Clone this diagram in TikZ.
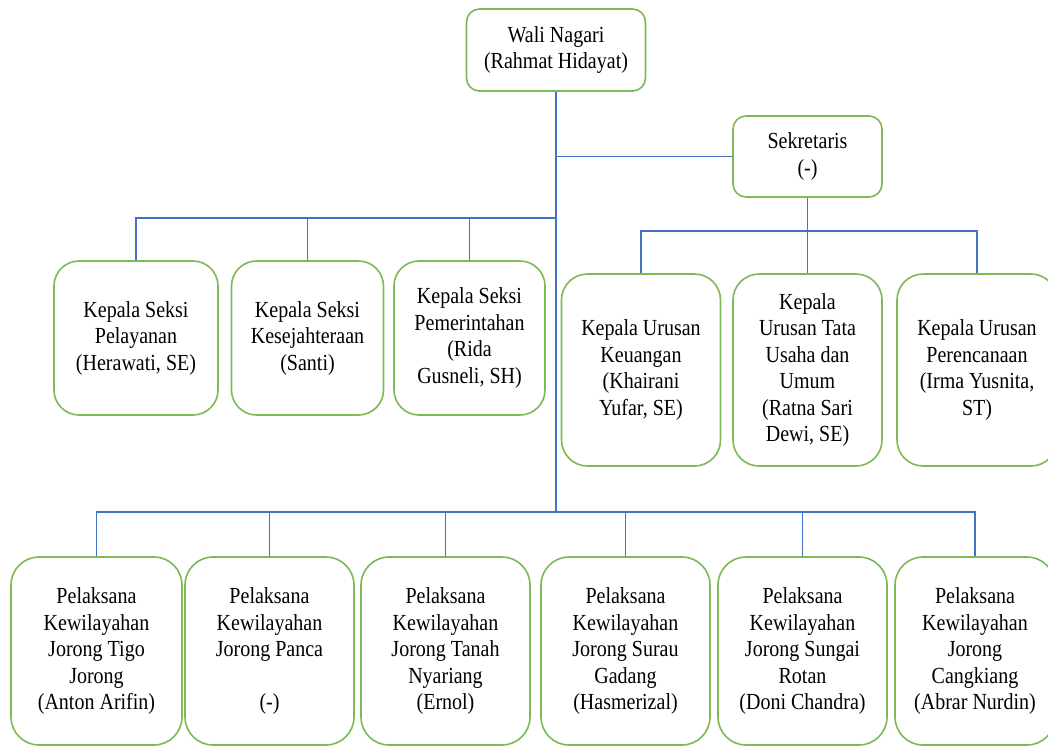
\documentclass[tikz,border=0pt]{standalone}
\usepackage{fontspec}
\setmainfont{Liberation Serif}[FakeStretch=0.87]
\definecolor{boxgreen}{RGB}{125,185,85}
\definecolor{lineblue}{RGB}{68,114,196}
\begin{document}
\begin{tikzpicture}[x=1pt,y=-1pt,
  orgbox/.style={draw=boxgreen, line width=1.6pt, rounded corners=#1, fill=white,
     align=center, inner sep=0pt, font=\fontsize{23}{26.5}\selectfont},
  orgbox/.default=14pt,
  conn/.style={draw=lineblue, line width=1.5pt}]
\useasboundingbox (0,0) rectangle (1048,747);
\fill[white] (0,0) rectangle (1048,747);
\clip (0,0) rectangle (1048,747);

% top
\node[orgbox=13pt, minimum width=179pt, minimum height=82pt] (wali) at (556,50) {Wali Nagari\\(Rahmat Hidayat)};
\node[orgbox=13pt, minimum width=149pt, minimum height=81pt] (sek) at (807.5,156.5) {Sekretaris\\(-)};

% kepala seksi
\node[orgbox=25pt, minimum width=164pt, minimum height=154pt] (ks1) at (136,338) {Kepala Seksi\\Pelayanan\\(Herawati, SE)};
\node[orgbox=25pt, minimum width=152pt, minimum height=154pt] (ks2) at (307.5,338) {Kepala Seksi\\Kesejahteraan\\(Santi)};
\node[orgbox=25pt, minimum width=151pt, minimum height=154pt] (ks3) at (469.5,338) {Kepala Seksi\\Pemerintahan\\(Rida\\Gusneli, SH)};

% kepala urusan
\node[orgbox=26pt, minimum width=159pt, minimum height=192pt] (ku1) at (641,370) {Kepala Urusan\\Keuangan\\(Khairani\\Yufar, SE)};
\node[orgbox=26pt, minimum width=149pt, minimum height=192pt] (ku2) at (807.5,370) {Kepala\\Urusan Tata\\Usaha dan\\Umum\\(Ratna Sari\\Dewi, SE)};
\node[orgbox=26pt, minimum width=160pt, minimum height=192pt] (ku3) at (977,370) {Kepala Urusan\\Perencanaan\\(Irma Yusnita,\\ST)};

% pelaksana kewilayahan
\node[orgbox=28pt, minimum width=171pt, minimum height=188pt] (pk1) at (96.5,651) {Pelaksana\\Kewilayahan\\Jorong Tigo\\Jorong\\(Anton Arifin)};
\node[orgbox=28pt, minimum width=169pt, minimum height=188pt] (pk2) at (269.5,651) {Pelaksana\\Kewilayahan\\Jorong Panca\\\strut\\(-)};
\node[orgbox=28pt, minimum width=169pt, minimum height=188pt] (pk3) at (445.5,651) {Pelaksana\\Kewilayahan\\Jorong Tanah\\Nyariang\\(Ernol)};
\node[orgbox=28pt, minimum width=169pt, minimum height=188pt] (pk4) at (625.5,651) {Pelaksana\\Kewilayahan\\Jorong Surau\\Gadang\\(Hasmerizal)};
\node[orgbox=28pt, minimum width=169pt, minimum height=188pt] (pk5) at (802.5,651) {Pelaksana\\Kewilayahan\\Jorong Sungai\\Rotan\\(Doni Chandra)};
\node[orgbox=28pt, minimum width=160pt, minimum height=188pt] (pk6) at (975,651) {Pelaksana\\Kewilayahan\\Jorong\\Cangkiang\\(Abrar Nurdin)};

% bus coordinates
\coordinate (lbus) at (556,218);
\coordinate (rbus) at (807.5,231);
\coordinate (jbus) at (556,512);

% connectors
\draw[conn] (wali.south) -- (jbus);
\draw[conn] (wali.south |- sek.west) -- (sek.west);
\draw[conn] (lbus) -| (ks1.north);
\draw[conn] (ks2.north |- lbus) -- (ks2.north);
\draw[conn] (ks3.north |- lbus) -- (ks3.north);
\draw[conn] (sek.south) -- (ku2.north);
\draw[conn] (ku1.north) |- (rbus) -| (ku3.north);
\draw[conn] (pk1.north) |- (jbus) -| (pk6.north);
\draw[conn] (pk2.north |- jbus) -- (pk2.north);
\draw[conn] (pk3.north |- jbus) -- (pk3.north);
\draw[conn] (pk4.north |- jbus) -- (pk4.north);
\draw[conn] (pk5.north |- jbus) -- (pk5.north);
\end{tikzpicture}
\end{document}
